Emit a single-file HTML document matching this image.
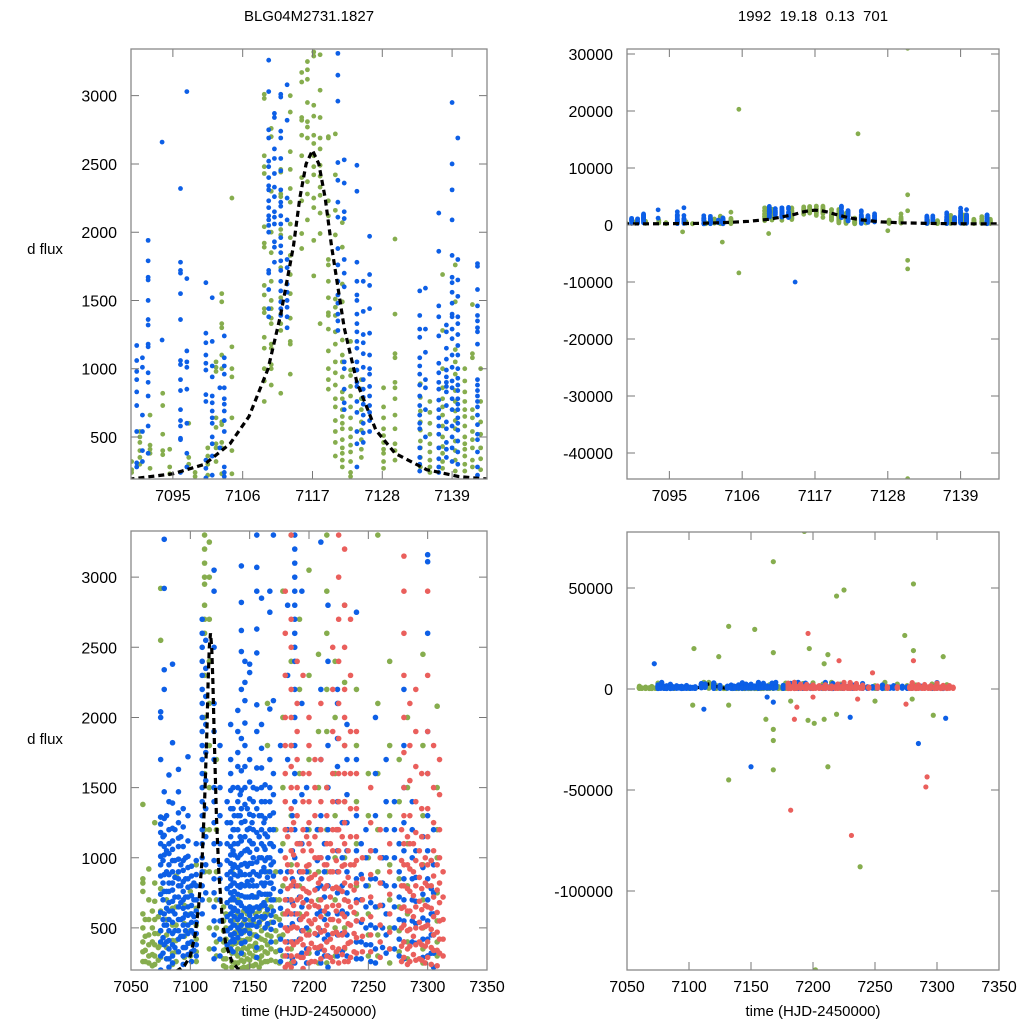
<!DOCTYPE html>
<html><head><meta charset="utf-8"><style>
html,body{margin:0;padding:0;background:#fff;}
svg{display:block;font-family:"Liberation Sans",sans-serif;}
</style></head><body>
<svg id="fig" width="1024" height="1024" viewBox="0 0 1024 1024" xmlns="http://www.w3.org/2000/svg">
<text x="309" y="21" font-size="15" text-anchor="middle">BLG04M2731.1827</text>
<text x="813" y="21" font-size="15" text-anchor="middle" xml:space="preserve">1992  19.18  0.13  701</text>
<text x="45" y="254" font-size="15" text-anchor="middle">d flux</text>
<text x="45" y="744" font-size="15" text-anchor="middle">d flux</text>
<text x="309" y="1016" font-size="15" text-anchor="middle">time (HJD-2450000)</text>
<text x="813" y="1016" font-size="15" text-anchor="middle">time (HJD-2450000)</text>
</svg>
<script>
// ---------- data ----------
const topXTicks=[7095,7106,7117,7128,7139];
const bottomXTicks=[7050,7100,7150,7200,7250,7300,7350];
const zoomYTicks=[500,1000,1500,2000,2500,3000];
const topRightYTicks=[30000,20000,10000,0,-10000,-20000,-30000,-40000];
const bottomRightYTicks=[50000,0,-50000,-100000];
const modelT=[7088,7095,7100,7104,7107,7110,7112,7114,7115,7116,7117,7118,7119,7120,7122,7124,7127,7130,7135,7140,7145];
const modelV=[190,230,300,450,650,1000,1400,1900,2250,2500,2600,2500,2250,1900,1300,900,550,380,260,210,190];

const tlBlue=[
[7089.3,[1170,1060,980,920,830,730,540,310,280]],
[7090.2,[1080,1010,660,540,400,320]],
[7091.1,[1940,1790,1670,1650,1500,1360,1320,1180,1160,970,900,800,580,380]],
[7093.3,[2660,1210]],
[7096.2,[2320,1780,1720,1700,1550,1360,1060,1030,920,840,700,620,580,490,480,240]],
[7097.2,[3030,1660,1130,1050,1010,850,600,280,380]],
[7100.2,[1630,1260,1190,1100,1040,990,810,760,330,270,200]],
[7101.2,[1520,1200,1020,940,800,750,690,640,600,500,450,360,220]],
[7102.4,[860,420]],
[7103.1,[1240,1080,1020,960,860,780,740,690,620,540,280,240,210]],
[7110.1,[3260,3030,2750,2690,2520,2480,2400,2340,2310,2230,2180,2120,2090,2050,2000,1720,1700,1580,1440,1380]],
[7111,[2870,2840,2610,2540,2430,2330,2260,2150,2110,2060,1930,1890,1780]],
[7112,[3010,2990,2740,2690,2540,2450,2310,2220,2190,2120,2060,1960,1900,1850,1790,1720,1640,1570,1490,1440,1390]],
[7113,[3080,2820,2250,2090,1800,1740,1620,1560,1500,1450,1380,1300]],
[7121,[3310,3150,2960,2510,2380,2220,2110,1880,1760,1640,1540,1480,1400,1350,1280]],
[7122,[2530,2360,2150,2100,1800,1700,1600,1050,1000,850,750,700]],
[7124,[2490,2300,1780,1640,1540,1500,1400,1330,1270,1200,1150,1050,990,900,870,760,680,540,450,280]],
[7125,[1640,1420,1250,1190,1110,1010,920,850,790,740,660,600,530,460]],
[7126,[1970,1690,1610,1440,1260,1100,1000,960,870,800,730,680,620,540]],
[7133.9,[1570,1390,1290,1230,1080,1020,960,880,800,730,660,600,560,420,350,300,250]],
[7134.8,[1590,1290,1120,920,860,700,500]],
[7136.9,[2140,1860,1460,1380,1240,1040,970,900,850,770,700,640,580,520,420,340,280,240]],
[7138.1,[1320,1270,1150,1070,990,940,900,870,830,730,610,560,460,410,350]],
[7139,[2950,2500,2310,2090,1830,1670,1630,1560,1480,1400,1380,1290,1220,1100,1010,910,860,780,700,580,500,420,320]],
[7139.9,[2690,1800,1650,1530,1380,1330,1250,1170,1100,1000,930,880,840,780,740,700,640,600,550,470,390,300]],
[7143,[1770,1750,1580,1460,1390,1350,1300,1270,1180,920,880,840,800,760,720,660,590,520,480,390,280,220]]
];
const tlGreen=[
[7088.5,[320,260,240]],
[7089.8,[540,500,460,400,350,300]],
[7091.4,[660,440,410,380,270]],
[7093.4,[730,820,520,400,370]],
[7094.5,[410,280,230]],
[7097.5,[600,350,300]],
[7098.5,[240,210]],
[7100.5,[420,360,300,220]],
[7101.8,[1050,1010,980,640,570,450,420,320]],
[7102.7,[1550,1490,1330,1300,1100,1000,610,590,460,420,230]],
[7104.3,[2250,1160,1000,940,640,400,230]],
[7109.4,[3010,2980,2560,2480,2430,2040,1920,1890,1610,1540,1440,1410,1230,1150,1000,910,760]],
[7110.5,[2760,2700,2300,2000,1850,1640,1500,1440,1370,1330,1180,1150,1030,1000,880]],
[7112,[2460,2440,2280,2260,2020,1980,1740,1520,1400,1330,1280,820]],
[7113.5,[3000,2880,2590,2460,2320,2220,2060,1960,1830,1690,1550,1370,1200,1180,960]],
[7115.3,[3170,3100,2840,2820,2710,2560,2400,2230,1990,1880]],
[7116.2,[3250,3190,3120,2950,2810,2770,2690,2370,2280,2090]],
[7117.2,[3320,3290,2930,2850,2710,2650,2560,2480,2420,2250,2180,1940,1680]],
[7118.2,[3300,3040,2840,2690,2610,2490,2410,2330,2270,2140,1990,1330]],
[7119.5,[2700,2690,2230,2120,1800,1760,1640,1520,1410,1390,1290,1130,1000,920,850]],
[7120.6,[2720,2420,2160,1980,1510,1450,1390,1270,1180,1050,970,880,780,720,620,540,460,360]],
[7121.7,[2070,1890,1620,1490,1210,1100,1050,940,830,780,700,650,600,560,480,420,380,330,280]],
[7123,[1200,990,950,870,800,720,640,560,500,440,390,320,240,210]],
[7124.7,[920,850,780,700,610,550,480,410,350]],
[7128.2,[860,720,640,560,510,460,410,380,320,270]],
[7130,[1950,1400,1110,1080,900,860,780,660,560,450,400,330]],
[7134,[890,790,690,610,550,470,420,350,280]],
[7135.5,[760,680,600,520,450,390,330,280,240]],
[7137.5,[1690,1280,1000,860,780,720,660,580,500,430,380,320,270]],
[7139.5,[1760,1490,1140,1050,960,840,760,690,620,560,470,400,330,250]],
[7141,[1000,910,830,760,700,650,580,500,450,410,360,300,250]],
[7142.2,[1470,1110,1080,700,640,540,480,420,330,280]],
[7143.5,[1000,760,610,520,420,340,260]]
];
const trGreenOut=[[7105.5,20300],[7123.5,16000],[7131,31000],[7131,5300],[7131,2500],[7105.5,-8400],[7103,-3000],[7131,-6200],[7131,-7700],[7131,-44500],[7110,-1500],[7097,-1200],[7128,-1000]];
const trBlueOut=[[7114,-10000]];

const blBlue=[
[7075,[2040,2000,1700,1290,1240,1180,1100,1010,950,870,740,610,480,400,300,200]],
[7077,[1150,980,820,700,560,430,320]],
[7078,[3270,2920,2340,2200,1470,1280,1160,1080,1020,880,760,600,520,380]],
[7080,[1300,1050,900,760,640,520,400,280]],
[7082,[1590,1400,1200,1100,1030,950,880,820,760,680,620,560,480,410,350,280,220]],
[7085,[2380,1820,1390,1210,1120,1060,980,900,820,770,690,620,540,460,380,300,250]],
[7087,[1200,980,860,720,600,480,360]],
[7090,[1630,1470,1320,1250,1140,1080,990,900,850,800,720,650,560,480,420,330]],
[7092,[1150,950,800,680,560,440]],
[7094,[1350,1220,1080,980,910,830,760,700,640,570,520,440,360,300,240]],
[7096,[1000,850,720,600,480,360]],
[7098,[1720,1300,1120,1010,930,850,790,720,650,590,520,460,390,310]],
[7101,[940,870,800,730,660,600,540,480,400,330,260]],
[7103,[820,700,580,460,340]],
[7105,[1100,980,880,800,700,620,540,460,380,300]],
[7110,[2700,2600,2500,2400,2300,2200,2100,2000,1900,1800,1700,1600,1500,1400,1300,1200,1100,1000,900,800,700,600]],
[7113,[2550,2350,2150,1950,1750,1550,1350,1150,950,750]],
[7120,[3050,2900,2500,2100,1900,1700,1500,1400,1250,1100,980,850,750,650,550,450,350,280]],
[7125,[1800,1500,1300,1100,950,850,700,550,420,300]],
[7131,[1400,1250,1100,980,880,780,680,580,480,380]],
[7134,[1950,1700,1600,1480,1350,1250,1150,1080,1020,960,900,850,800,750,700,650,600,550,500,450,400,350]],
[7136,[1500,1350,1200,1050,930,820,720,620,520,420,330]],
[7137,[1300,1200,1100,1020,950,880,820,760,700,640,580,520,460,400]],
[7140,[2050,1900,1750,1650,1500,1400,1300,1200,1100,1000,930,870,800,740,680,620,560,500,430]],
[7142,[1450,1300,1150,1020,900,790,680,580,480]],
[7143,[3080,2820,2620,2470,2200,1850,1620,1480,1350,1250,1120,1030,950,880,810,730,660,590,520,460,390,320]],
[7146,[2400,2250,2120,1960,1800,1650,1500,1380,1260,1150,1050,960,880,800,720,640,560,480,400]],
[7148,[1350,1200,1060,940,830,720,620,520]],
[7150,[2380,2320,1700,1540,1420,1310,1210,1120,1040,960,880,800,720,650,590,520,460]],
[7152,[1250,1100,960,840,730,620,520]],
[7153,[1500,1400,1300,1200,1100,1000,900,800,720,640,560]],
[7156,[3300,3070,2900,2630,2460,2090,1900,1640,1490,1350,1180,1060,970,880,800,720,650,580,510,440,360,290]],
[7158,[1300,1150,1000,870,750,640,540]],
[7160,[2850,1950,1780,1640,1500,1400,1300,1200,1100,1000,900,820,740,660,580]],
[7162,[1250,1080,930,800,680,570]],
[7163,[1520,1400,1280,1170,1060,980,900,820,740,660,580,500]],
[7165,[1150,1000,860,740,630,530]],
[7167,[2900,2750,2060,1700,1500,1400,1300,1200,1100,1000,900,820,740]],
[7168,[1100,950,820,700,590,490,400]],
[7170,[3300,2120,1600,1450,1320,1200,1080,970,870,780,700,620,540]],
[7176,[1800,1050,900,760,640,520,420,340,260]],
[7182,[2800,2300,1700,1200,900,700,600,500,400,300]],
[7186,[1300,1050,850,680,530,400,280]],
[7188,[3300,3200,3100,3000,2900,2800,2700,2600,2500,2400,2200,2000,1800,1600,1400,1200,1000,800,600,400,250]],
[7192,[1100,900,720,560,420,300]],
[7194,[2900,2100,1450,1100,850,650,480,320]],
[7198,[1500,1200,900,700,500,350,250]],
[7207,[1200,980,780,600,450,320]],
[7210,[3250,2200,1700,1300,1000,800,620,480,350,250]],
[7213,[1100,900,720,560,420,300]],
[7216,[2800,2400,1800,1500,1200,1000,800,600,450,300,220]],
[7224,[2200,2100,1850,1650,1400,1200,1050,900,750,600,450,300]],
[7228,[1250,1000,800,620,460,330]],
[7232,[1950,1700,1450,1250,1050,900,750,600,450,300]],
[7240,[2750,1700,1300,1050,850,700,550,400,280]],
[7244,[1100,880,700,540,400,280]],
[7248,[1200,1000,800,650,500,380]],
[7252,[1050,850,680,520,380,260]],
[7256,[2000,1600,1300,1050,850,650,500,350,250]],
[7262,[1000,820,660,500,360]],
[7265,[1700,1400,1200,1000,800,600,450,320]],
[7272,[1400,1200,1000,800,650,500,350]],
[7276,[1100,900,720,560,420,300]],
[7280,[2200,1800,1500,1250,1050,850,700,550,400,280]],
[7287,[1400,1200,1000,850,700,550,400]],
[7290,[1050,860,690,530,390]],
[7296,[1150,930,740,570,420,290]],
[7300,[3160,3110,2600,1900,1600,1300,1050,850,700,550,420,300]],
[7303,[980,780,600,450,320]],
[7305,[1200,950,750,600,450,320,220]]
];
const blGreen=[
[7060,[1380,850,820,760,600,500,400,330,260]],
[7062,[560,440,340,260]],
[7065,[920,700,560,450,380,300,250]],
[7068,[620,500,400,310,230]],
[7070,[1250,820,690,560,460,380,300,240]],
[7073,[580,460,360,270]],
[7075,[2920,2550,1290,780,620,480,380,290]],
[7080,[700,560,450,360,280]],
[7085,[640,520,410,320,240]],
[7088,[870,650,520,410,330,260]],
[7095,[660,530,440,360,290]],
[7100,[760,600,480,390,300]],
[7105,[950,800,640,520,420,330,260]],
[7112,[3300,3200,3100,3000,2950,2800,2700,2600,2300,2000,1600,1200,900]],
[7116,[3250,3000,2700,2400,2100,1800,1500,1200,900,700,500,350]],
[7122,[1700,1200,900,700,500,400,300]],
[7128,[650,550,480,400,340,280,230]],
[7130,[600,500,420,350,280,220]],
[7135,[900,700,550,450,380,320,260,220]],
[7138,[560,470,390,320,250]],
[7140,[700,600,520,450,400,350,300,250]],
[7143,[580,490,410,340,270,210]],
[7145,[620,540,470,410,360,310,260,220]],
[7148,[600,500,420,350,280,220]],
[7150,[800,650,560,480,420,370,320,270,230]],
[7153,[640,540,450,370,300,230]],
[7155,[720,600,520,450,390,340,290,240]],
[7158,[620,520,430,350,280,220]],
[7160,[650,560,480,420,360,300,250]],
[7163,[600,500,410,330,260]],
[7165,[2100,1800,900,700,600,520,450,380,320,260]],
[7168,[650,540,440,350,270]],
[7172,[1200,900,700,580,480,400,330,260]],
[7175,[700,560,440,340,250]],
[7178,[2900,2000,1500,1100,800,600,450,300]],
[7185,[3300,2400,1800,1300,950,700,500,350,250]],
[7192,[2700,2200,1600,1100,800,600,420,300]],
[7200,[3050,2300,1700,1200,900,650,480,320]],
[7208,[2450,1900,1500,1200,900,700,500,350,250]],
[7215,[3300,2900,2600,2200,1900,1500,1200,900,600,400,250]],
[7222,[2400,2000,1600,1300,1000,700,500,300]],
[7230,[2800,2250,1800,1400,1000,700,500,350]],
[7240,[2200,1800,1400,1100,800,600,400,280]],
[7250,[1600,1300,1000,800,600,450,300]],
[7258,[3300,2100,1600,1200,900,650,450,300]],
[7268,[2400,1800,1300,950,700,500,350,250]],
[7276,[1700,1400,1100,850,650,480,330]],
[7283,[2000,1500,1100,800,600,400,280]],
[7296,[2450,1800,1300,950,700,500,350,250]],
[7308,[2080,1500,1200,1000,750,550,400,300]]
];
const blRed=[
[7180,[2900,2600,2300,2000,1800,1600,1400,1200,1000,850,700,600,500,400,300,220]],
[7182,[1150,950,780,620,480,350,240]],
[7185,[3300,2700,2500,2200,2000,1800,1650,1500,1350,1200,1050,900,800,700,600,500,400,300,220]],
[7187,[1250,1020,830,660,510,380,260]],
[7190,[2400,2100,1900,1700,1500,1300,1100,950,800,700,600,500,400,300]],
[7193,[1100,900,720,560,420,290]],
[7195,[2300,1600,1400,1200,1050,900,780,680,580,480,380,290,210]],
[7198,[1150,940,760,600,450,320]],
[7200,[2000,1800,1600,1400,1250,1100,950,850,750,650,550,450,350,250]],
[7202,[1050,860,690,530,390,260]],
[7205,[1700,1500,1300,1150,1000,880,770,660,560,460,360,260]],
[7208,[1000,820,650,500,360]],
[7210,[2100,1700,1400,1200,1000,850,700,580,470,370,280]],
[7213,[950,780,620,480,340]],
[7215,[1500,1300,1100,950,800,650,520,400,300]],
[7218,[1100,900,720,560,420,290]],
[7220,[2500,2200,1900,1600,1400,1200,1050,900,780,660,560,460,360,260]],
[7223,[1200,980,790,620,470,330]],
[7225,[3300,3000,2700,2400,2100,1850,1600,1400,1200,1050,900,780,660,550,450,350,250]],
[7228,[1150,940,760,600,450,310]],
[7230,[3200,2800,2500,2200,2000,1800,1600,1400,1250,1100,950,820,700,580,470,360,260]],
[7233,[1050,860,690,530,390,260]],
[7235,[2700,2300,1900,1600,1350,1150,950,800,650,520,400,290]],
[7238,[950,770,610,460,330]],
[7240,[1900,1600,1350,1150,980,820,680,550,430,320]],
[7245,[1000,850,700,560,440,330]],
[7252,[1500,1250,1050,880,720,580,450,330]],
[7260,[1200,1000,820,660,520,400,290]],
[7268,[1100,900,740,600,470,350]],
[7278,[1200,980,800,640,500,370,260]],
[7280,[3150,2900,2600,2300,2000,1750,1500,1300,1100,950,800,650,520,400,290]],
[7283,[1150,950,780,620,480,350,240]],
[7285,[2100,1800,1550,1300,1100,920,760,620,490,370,260]],
[7288,[1100,900,730,580,440,310]],
[7290,[2200,1900,1650,1400,1180,980,800,650,500,380,270]],
[7293,[1050,860,690,540,400,280]],
[7295,[1600,1350,1150,950,780,630,500,380,270]],
[7298,[1000,820,660,510,370,250]],
[7300,[2900,2300,1900,1600,1350,1150,950,800,650,520,400,290]],
[7303,[980,800,640,490,360,240]],
[7305,[1800,1500,1250,1050,870,720,580,450,340]],
[7308,[950,770,610,470,340,230]],
[7310,[1700,1450,1200,1000,820,680,550,420,320]],
[7313,[900,720,560,420,300]]
];
const brGreenOut=[[7193,78000],[7168,63000],[7281,52000],[7225,49000],[7219,46000],[7132,31000],[7153,29500],[7274,26500],[7104,20000],[7197,20000],[7281,19000],[7168,18000],[7212,17000],[7124,16000],[7305,16000],[7209,12500],[7132,-45000],[7168,-40000],[7212,-38500],[7238,-88000],[7202,-139000],[7168,-25500],[7168,-20000],[7162,-15000],[7196,-15500],[7201,-17000],[7209,-15000],[7219,-12500],[7297,-13000],[7103,-8000],[7132,-8000],[7182,-6000],[7250,-6000],[7280,-5000]];
const brBlueOut=[[7072,12500],[7112,-10000],[7150,-38500],[7230,-14000],[7285,-27000],[7307,-14500],[7163,-4000],[7168,-6500]];
const brRedOut=[[7196,27500],[7221,14000],[7281,14000],[7185,-15000],[7187,-9000],[7182,-60000],[7231,-72500],[7292,-43500],[7291,-48500],[7200,-4000],[7236,-5000],[7275,-7500],[7248,8000]];

// ---------- rendering ----------
const NS='http://www.w3.org/2000/svg';
const svg=document.getElementById('fig');
const COL={green:'#86ad4e',blue:'#0d5fe6',red:'#ea5f5c'};
function mk(tag,attrs,parent){const e=document.createElementNS(NS,tag);for(const k in attrs)e.setAttribute(k,attrs[k]);(parent||svg).appendChild(e);return e;}

function panel(id,box,xr,yr,xt,yt,rad){
  const g=mk('g',{});
  
  
  const sx=t=>box.x0+(t-xr[0])/(xr[1]-xr[0])*(box.x1-box.x0);
  const sy=v=>box.y1-(v-yr[0])/(yr[1]-yr[0])*(box.y1-box.y0);
  const cp=mk('clipPath',{id:'clip-'+id},g);
  mk('rect',{x:box.x0,y:box.y0,width:box.x1-box.x0,height:box.y1-box.y0},cp);
  const data=mk('g',{'clip-path':'url(#clip-'+id+')'},g);
  
  
  const axes=mk('g',{},g);
  
  
  xt.forEach(t=>{const x=sx(t);
    const tk=mk('path',{d:`M${x},${box.y1}v-8M${x},${box.y0}v8`,stroke:'#777','stroke-width':1},axes);
    
    
    const l=mk('text',{x:x,y:box.y1+22,'font-size':16,'text-anchor':'middle'},axes);l.textContent=t;
    
    
  });
  yt.forEach(v=>{const y=sy(v);
    const tk=mk('path',{d:`M${box.x0},${y}h8M${box.x1},${y}h-8`,stroke:'#777','stroke-width':1},axes);
    
    
    const l=mk('text',{x:box.x0-14,y:y+6,'font-size':16,'text-anchor':'end'},axes);l.textContent=v;
    
    
  });
  const fr=mk('rect',{x:box.x0,y:box.y0,width:box.x1-box.x0,height:box.y1-box.y0,fill:'none',stroke:'#888','stroke-width':1.3},axes);
  
  
  return {data,sx,sy,rad};
}
function nights(p,arr,color,name){
  arr.forEach(n=>n[1].forEach(v=>{
    const c=mk('circle',{cx:p.sx(n[0]),cy:p.sy(v),r:p.rad,fill:color},p.data);
    
    
  }));
}
function pts(p,arr,color,name){
  arr.forEach(q=>{
    const c=mk('circle',{cx:p.sx(q[0]),cy:p.sy(q[1]),r:p.rad,fill:color},p.data);
    
    
  });
}
function model(p){
  const d=modelT.map((t,i)=>(i?'L':'M')+p.sx(t).toFixed(1)+','+p.sy(modelV[i]).toFixed(1)).join('');
  const l=mk('path',{d:d,fill:'none',stroke:'#000','stroke-width':3.2,'stroke-dasharray':'6,4'},p.data);
  
  
}

const pTL=panel('top-left-panel',{x0:131,x1:487,y0:49,y1:479},[7088.4,7144.5],[192,3342],topXTicks,zoomYTicks,2.4);
nights(pTL,tlGreen,COL.green,'green-point');nights(pTL,tlBlue,COL.blue,'blue-point');model(pTL);

const pTR=panel('top-right-panel',{x0:627,x1:999,y0:49,y1:479},[7088.6,7144.8],[-44560,30880],topXTicks,topRightYTicks,2.4);
nights(pTR,tlGreen,COL.green,'green-point');pts(pTR,trGreenOut,COL.green,'green-outlier');
nights(pTR,tlBlue,COL.blue,'blue-point');pts(pTR,trBlueOut,COL.blue,'blue-outlier');model(pTR);

const pBL=panel('bottom-left-panel',{x0:131,x1:487,y0:531,y1:970},[7050,7350],[200,3329],bottomXTicks,zoomYTicks,2.8);
nights(pBL,blGreen,COL.green,'green-point');nights(pBL,blBlue,COL.blue,'blue-point');nights(pBL,blRed,COL.red,'red-point');model(pBL);

const pBR=panel('bottom-right-panel',{x0:627,x1:999,y0:532,y1:970},[7050,7350],[-139100,77700],bottomXTicks,bottomRightYTicks,2.6);
nights(pBR,blGreen,COL.green,'green-point');pts(pBR,brGreenOut,COL.green,'green-outlier');
model(pBR);
nights(pBR,blBlue,COL.blue,'blue-point');pts(pBR,brBlueOut,COL.blue,'blue-outlier');
nights(pBR,blRed,COL.red,'red-point');pts(pBR,brRedOut,COL.red,'red-outlier');
</script>
</body></html>
